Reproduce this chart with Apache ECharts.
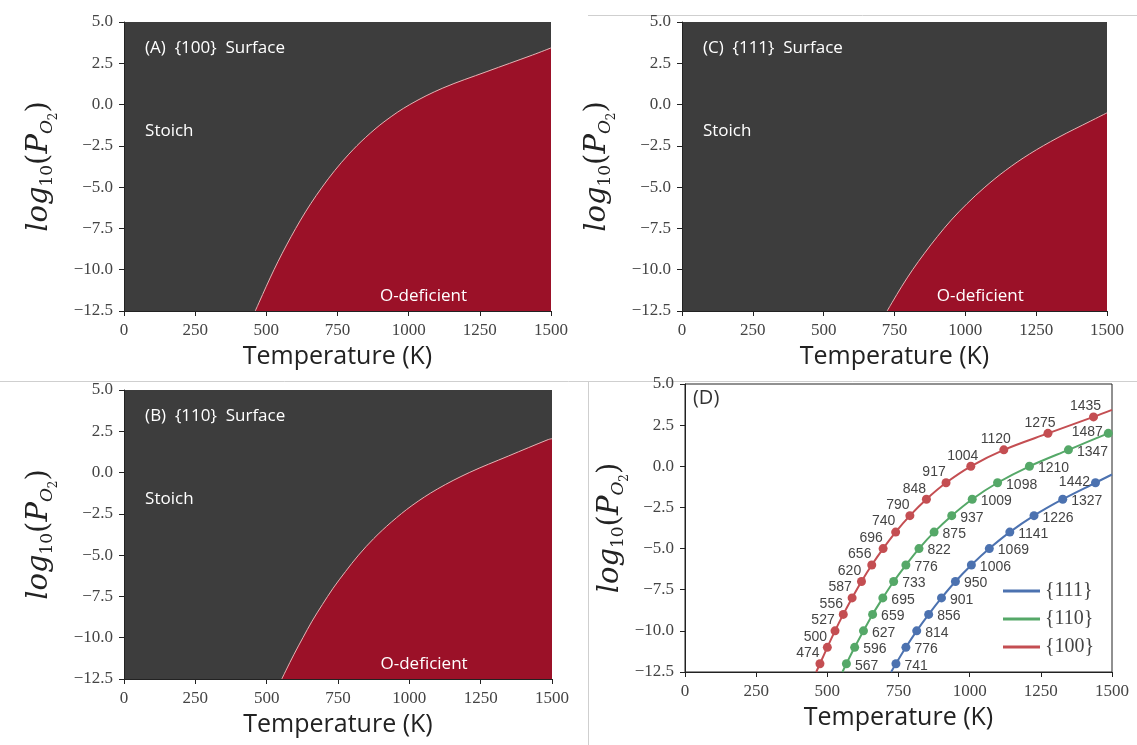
<!DOCTYPE html>
<html>
<head>
<meta charset="utf-8">
<script src="https://cdn.jsdelivr.net/npm/echarts@6/dist/echarts.min.js"></script>
<style>
  html, body { margin: 0; padding: 0; background: #fff; }
  #main { width: 1137px; height: 745px; }
</style>
</head>
<body>
<div id="main"></div>
<script>
// log10(P_O2) levels where the transition temperature is marked
var logP = [-12, -11, -10, -9, -8, -7, -6, -5, -4, -3, -2, -1, 0, 1, 2, 3];
var temp100 = [474, 500, 527, 556, 587, 620, 656, 696, 740, 790, 848, 917, 1004, 1120, 1275, 1435];
var temp110 = [567, 596, 627, 659, 695, 733, 776, 822, 875, 937, 1009, 1098, 1210, 1347, 1487];
var temp111 = [741, 776, 814, 856, 901, 950, 1006, 1069, 1141, 1226, 1327, 1442];
// where each curve leaves the plot (bottom edge / right edge)
var ends100 = [[461, -12.5], [1500, 3.43]];
var ends110 = [[553, -12.5], [1500, 2.05]];
var ends111 = [[724, -12.5], [1500, -0.5]];

var xTicks = { min: 0, max: 1500, interval: 250 };
var yTicks = { min: -12.5, max: 5, interval: 2.5 };

var chartDom = document.getElementById('main');
var myChart = echarts.init(chartDom, null, { renderer: 'canvas' });

var RED = '#c44e52', GREEN = '#55a868', BLUE = '#4c72b0';
var FILL_RED = '#9b1128', FILL_GRAY = '#3d3d3d';

// A, C, B, D
var grids = [
  { left: 124, top: 22, width: 427, height: 289 },
  { left: 682, top: 22, width: 425, height: 289 },
  { left: 124, top: 390, width: 428, height: 289 },
  { left: 685, top: 384, width: 427, height: 288 }
];
var nameGaps = [64, 64, 64, 40];

var serif = 'DejaVu Serif';
var yName = '{i|log}{s|10}{u|(}{i|P}{so|O}{ss|2}{u|)}';
var yRich = {
  i: { fontFamily: serif, fontStyle: 'italic', fontSize: 29, verticalAlign: 'top', color: '#222' },
  u: { fontFamily: serif, fontSize: 29, verticalAlign: 'top', color: '#222' },
  s: { fontFamily: serif, fontSize: 17, verticalAlign: 'top', padding: [14, 0, 0, 0], color: '#222' },
  so: { fontFamily: serif, fontStyle: 'italic', fontSize: 17, verticalAlign: 'top', padding: [14, 0, 0, 0], color: '#222' },
  ss: { fontFamily: serif, fontSize: 12, verticalAlign: 'top', padding: [23, 0, 0, 0], color: '#222' }
};

function fmtY(v) {
  return v.toFixed(1).replace('-', '\u2212');
}
function fmtX(v) {
  return String(v);
}

var xAxis = [], yAxis = [];
grids.forEach(function (g, i) {
  xAxis.push({
    type: 'value', gridIndex: i,
    min: xTicks.min, max: xTicks.max, interval: xTicks.interval,
    name: 'Temperature (K)', nameLocation: 'middle', nameGap: 33,
    nameTextStyle: { fontFamily: 'Open Sans', fontSize: 25, color: '#222' },
    axisLine: { show: true, onZero: false, lineStyle: { color: '#222', width: 1 } },
    axisTick: { show: true, length: 5, lineStyle: { color: '#222' } },
    axisLabel: { fontFamily: 'Liberation Serif', fontSize: 17, color: '#444', margin: 11, formatter: fmtX },
    splitLine: { show: false }
  });
  yAxis.push({
    type: 'value', gridIndex: i,
    min: yTicks.min, max: yTicks.max, interval: yTicks.interval,
    name: yName, nameLocation: 'middle', nameRotate: 90, nameGap: nameGaps[i],
    nameTextStyle: { rich: yRich },
    axisLine: { show: true, onZero: false, lineStyle: { color: '#222', width: 1 } },
    axisTick: { show: true, length: 5, lineStyle: { color: '#222' } },
    axisLabel: { fontFamily: 'Liberation Serif', fontSize: 17, color: '#444', margin: 11, formatter: fmtY },
    splitLine: { show: false }
  });
});

var gridOpts = grids.map(function (g, i) {
  var o = Object.assign({}, g, { show: true, containLabel: false });
  if (i < 3) {
    o.backgroundColor = FILL_GRAY;
    o.borderWidth = 0;
  } else {
    o.backgroundColor = '#fff';
    o.borderColor = '#222';
    o.borderWidth = 1;
  }
  return o;
});

function boundary(temps, ends) {
  var d = [ends[0]];
  temps.forEach(function (t, i) { d.push([t, logP[i]]); });
  d.push(ends[1]);
  return d;
}

function phaseSeries(name, idx, temps, ends) {
  return {
    type: 'line', name: name, xAxisIndex: idx, yAxisIndex: idx,
    data: boundary(temps, ends),
    smooth: 0.35, showSymbol: false, silent: true,
    lineStyle: { color: '#e3b5b5', width: 1 },
    areaStyle: { color: FILL_RED, opacity: 1, origin: 'start' },
    z: 2
  };
}

function pointSeries(name, color, temps, ends, side) {
  var d = [{ value: ends[0], symbol: 'none', label: { show: false } }];
  temps.forEach(function (t, i) {
    var item = { value: [t, logP[i]] };
    if (side === 'top') {
      item.label = { position: 'top', offset: [String(t).length > 3 ? -8 : -12, 5] };
    } else if (i === temps.length - 1) {
      item.label = { position: 'left', distance: 1, offset: [0, -1] };
    }
    d.push(item);
  });
  d.push({ value: ends[1], symbol: 'none', label: { show: false } });
  return {
    type: 'line', name: name, xAxisIndex: 3, yAxisIndex: 3,
    data: d,
    smooth: 0.35,
    symbol: 'circle', symbolSize: 9, showAllSymbol: true,
    itemStyle: { color: color },
    lineStyle: { color: color, width: 2 },
    label: {
      show: true, position: side, distance: 4, offset: side === 'right' ? [0, 2] : [0, 0],
      fontFamily: 'Liberation Sans', fontSize: 14, color: '#444',
      formatter: function (p) { return p.value[0]; }
    },
    z: 3
  };
}

var series = [
  phaseSeries('A boundary', 0, temp100, ends100),
  phaseSeries('C boundary', 1, temp111, ends111),
  phaseSeries('B boundary', 2, temp110, ends110),
  pointSeries('{111}', BLUE, temp111, ends111, 'right'),
  pointSeries('{110}', GREEN, temp110, ends110, 'right'),
  pointSeries('{100}', RED, temp100, ends100, 'top')
];

var option = {
  animation: false,
  grid: gridOpts,
  xAxis: xAxis,
  yAxis: yAxis,
  legend: {
    data: ['{111}', '{110}', '{100}'],
    orient: 'vertical', left: 998, top: 576,
    icon: 'rect', itemWidth: 37, itemHeight: 3, itemGap: 8,
    textStyle: { fontFamily: 'Liberation Serif', fontSize: 20, color: '#444' }
  },
  series: series
};
myChart.setOption(option);

// panel annotations, placed in data coordinates of each panel
var panelText = [
  ['(A)  {100}  Surface', 0],
  ['(C)  {111}  Surface', 1],
  ['(B)  {110}  Surface', 2]
];
var graphics = [];
function px(idx, pt) { return myChart.convertToPixel({ gridIndex: idx }, pt); }
function txt(p, s, size, color) {
  return {
    type: 'text', x: p[0], y: p[1], silent: true, z: 10,
    style: { text: s, fill: color, font: size + 'px "Open Sans"', verticalAlign: 'middle', align: 'left' }
  };
}
panelText.forEach(function (t) {
  graphics.push(txt(px(t[1], [74, 3.43]), t[0], 17, '#fff'));
  graphics.push(txt(px(t[1], [74, -1.6]), 'Stoich', 17, '#fff'));
  graphics.push(txt(px(t[1], [899, -11.6]), 'O-deficient', 17, '#fff'));
});
graphics.push(txt(px(3, [28, 4.15]), '(D)', 20, '#333'));

// thin page separators from the original figure
var sep = { stroke: '#cfcfcf', lineWidth: 1 };
graphics.push({ type: 'line', silent: true, shape: { x1: 0, y1: 381.5, x2: 1137, y2: 381.5 }, style: sep });
graphics.push({ type: 'line', silent: true, shape: { x1: 588.5, y1: 381, x2: 588.5, y2: 745 }, style: sep });
graphics.push({ type: 'line', silent: true, shape: { x1: 588, y1: 15.5, x2: 1137, y2: 15.5 }, style: sep });

myChart.setOption({ graphic: graphics });
</script>
</body>
</html>
